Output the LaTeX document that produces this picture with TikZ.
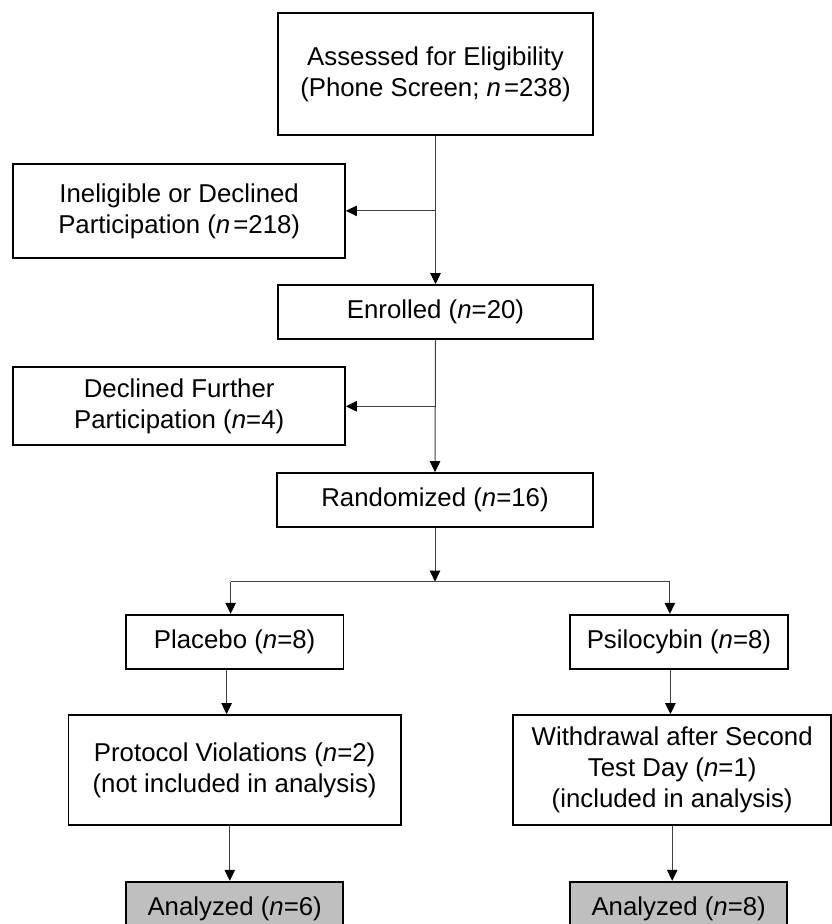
\documentclass[tikz,border=0pt]{standalone}
\usepackage{fontspec}
\setmainfont{Liberation Sans}
\usetikzlibrary{arrows.meta,calc}
\begin{document}
\begin{tikzpicture}[x=1pt,y=-1pt,
  box/.style={draw=black,line width=1.8pt,rectangle,inner sep=0pt,align=center,
    font=\fontsize{25.8}{31}\selectfont},
  finalbox/.style={box,fill=gray!50},
  conn/.style={draw=black!75,line width=1pt,-{Triangle[length=11pt,width=10.5pt,color=black]}},
  plain/.style={draw=black!75,line width=1pt}]
\useasboundingbox (0,0) rectangle (832,924);
\clip (0,0) rectangle (832,924);
\fill[white] (0,0) rectangle (832,924);

\node[box,minimum width=314.4pt,minimum height=122.3pt] (assess) at (435.5,73.85)
  {Assessed for Eligibility\\(Phone Screen; \textit{n}\hspace{3pt}=238)};
\node[box,minimum width=331.7pt,minimum height=93.7pt] (inelig) at (179.15,210.85)
  {Ineligible or Declined\\Participation (\textit{n}\hspace{3pt}=218)};
\node[box,minimum width=314.8pt,minimum height=54.3pt] (enrolled) at (435.5,312.15)
  {Enrolled (\textit{n}=20)};
\node[box,minimum width=331.7pt,minimum height=78pt] (declined) at (179.15,406.3)
  {Declined Further\\Participation (\textit{n}=4)};
\node[box,minimum width=316pt,minimum height=54pt] (random) at (435,500)
  {Randomized (\textit{n}=16)};
\node[box,minimum width=217.6pt,minimum height=54.3pt] (placebo) at (234.6,641.85)
  {Placebo (\textit{n}=8)};
\node[box,minimum width=217.6pt,minimum height=54.3pt] (psilo) at (678.9,641.85)
  {Psilocybin (\textit{n}=8)};
\node[box,minimum width=332.2pt,minimum height=110.3pt] (protocol) at (234.6,770.15)
  {Protocol Violations (\textit{n}=2)\\(not included in analysis)};
\node[box,minimum width=318pt,minimum height=110.3pt] (withdraw) at (672.2,770.15)
  {Withdrawal after Second\\Test Day (\textit{n}=1)\\(included in analysis)};
\node[finalbox,minimum width=217.3pt,minimum height=54.3pt] (anaL) at (234.65,908.85)
  {Analyzed (\textit{n}=6)};
\node[finalbox,minimum width=217.3pt,minimum height=54.3pt] (anaR) at (678.65,908.85)
  {Analyzed (\textit{n}=8)};

% main trunk
\draw[conn] (assess.south) -- (enrolled.north);
\coordinate (j1) at (assess.south |- inelig.east);
\draw[conn] (j1) -- (inelig.east);
\draw[conn] (enrolled.south) -- (random.north);
\coordinate (j2) at (enrolled.south |- declined.east);
\draw[conn] (j2) -- (declined.east);

% split
\coordinate (split) at ($(random.south)+(0,53.7)$);
\draw[conn] (random.south) -- (split);
\coordinate (pL) at ([xshift=-4pt]placebo.north);
\coordinate (pR) at ([xshift=-9pt]psilo.north);
\coordinate (sL) at (pL |- split);
\coordinate (sR) at (pR |- split);
\draw[plain] (sL) -- (sR);
\draw[conn] (sL) -- (pL);
\draw[conn] (sR) -- (pR);

% arms
\coordinate (a1) at ([xshift=-8pt]placebo.south);
\draw[conn] (a1) -- (a1 |- protocol.north);
\coordinate (a2) at ([xshift=-8.5pt]psilo.south);
\draw[conn] (a2) -- (a2 |- withdraw.north);
\coordinate (a3) at ([xshift=-4.8pt]protocol.south);
\draw[conn] (a3) -- (a3 |- anaL.north);
\draw[conn] (withdraw.south) -- (withdraw.south |- anaR.north);
\end{tikzpicture}
\end{document}
